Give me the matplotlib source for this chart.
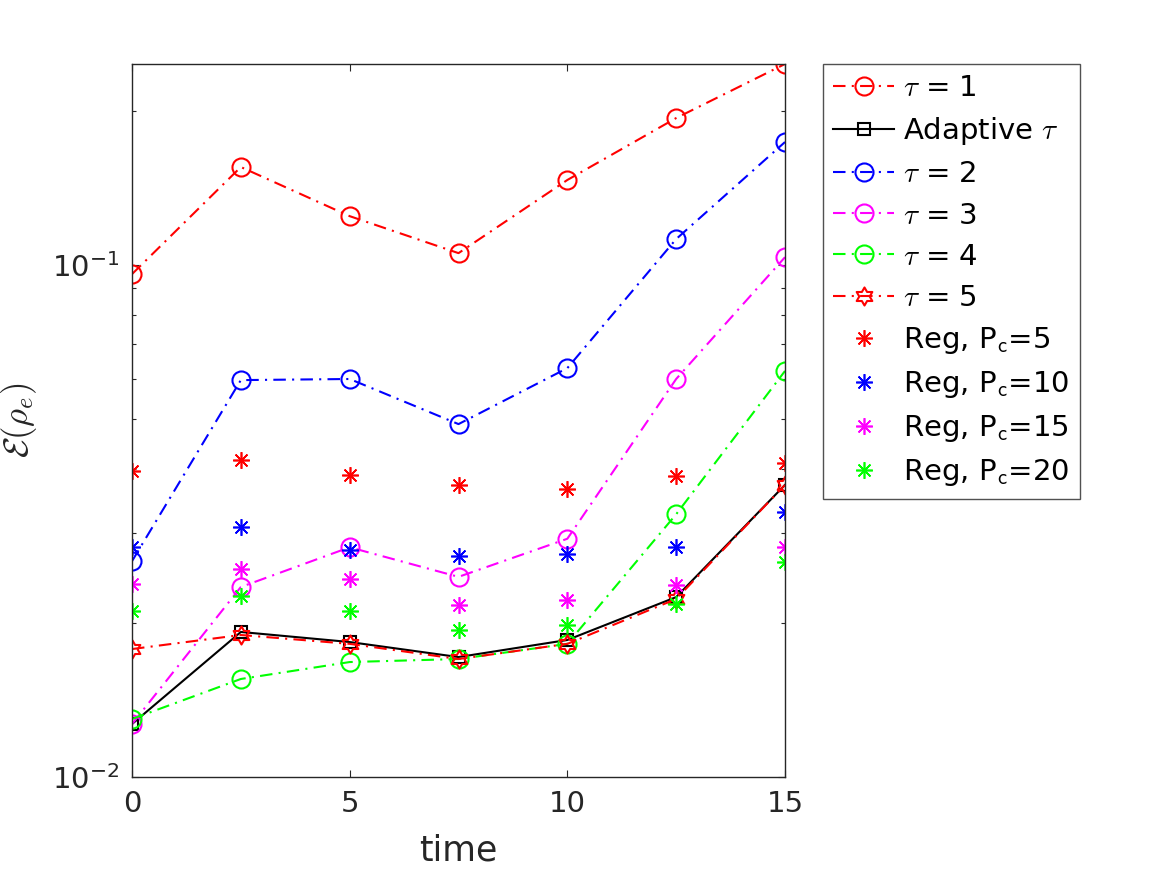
import numpy as np
import matplotlib
matplotlib.use("Agg")
import matplotlib.pyplot as plt
from matplotlib.path import Path

plt.rcParams['font.family'] = ['DejaVu Sans']
plt.rcParams['mathtext.fontset'] = 'cm'

time = [0, 2.5, 5, 7.5, 10, 12.5, 15]

tau1 = [0.0960, 0.1554, 0.1246, 0.1055, 0.1466, 0.1937, 0.2470]
adaptive = [0.01269, 0.0192, 0.01835, 0.01715, 0.01852, 0.02246, 0.0372]
tau2 = [0.0264, 0.0596, 0.0599, 0.0489, 0.0629, 0.1124, 0.1739]
tau3 = [0.01269, 0.0235, 0.0281, 0.0246, 0.0292, 0.0599, 0.1036]
tau4 = [0.01298, 0.01554, 0.01677, 0.0170, 0.0182, 0.0326, 0.0621]
tau5 = [0.01778, 0.01894, 0.0182, 0.0170, 0.0182, 0.02227, 0.0372]

reg5 = [0.0396, 0.0416, 0.0389, 0.0372, 0.0365, 0.0387, 0.0411]
reg10 = [0.0281, 0.0308, 0.0278, 0.0270, 0.0273, 0.0281, 0.0329]
reg15 = [0.0238, 0.0255, 0.0244, 0.02168, 0.02217, 0.0237, 0.0281]
reg20 = [0.0211, 0.0226, 0.0211, 0.0194, 0.0198, 0.0218, 0.0263]

labels = [r'$\tau$ = 1', r'Adaptive $\tau$', r'$\tau$ = 2', r'$\tau$ = 3',
          r'$\tau$ = 4', r'$\tau$ = 5',
          r'Reg, P$_\mathsf{c}$=5', r'Reg, P$_\mathsf{c}$=10',
          r'Reg, P$_\mathsf{c}$=15', r'Reg, P$_\mathsf{c}$=20']

W, H = 1167, 875
fig = plt.figure(figsize=(W / 100, H / 100), dpi=100)
ax = fig.add_axes([132 / W, (H - 777) / H, (785 - 132) / W, (777 - 64) / H])

dd = (0, (6, 3, 1, 3))
lw = 1.5
hexa = Path.unit_regular_star(6, 1 / np.sqrt(3))
star8 = (8, 2, 0)

ax.plot(time, tau1, color=(1, 0, 0), linestyle=dd, lw=lw, marker='o', ms=13,
        mfc='none', mew=1.5, label=labels[0])
ax.plot(time, adaptive, color='k', linestyle='-', lw=lw, marker='s', ms=8,
        mfc='none', mew=1.5, label=labels[1])
ax.plot(time, tau2, color=(0, 0, 1), linestyle=dd, lw=lw, marker='o', ms=13,
        mfc='none', mew=1.5, label=labels[2])
ax.plot(time, tau3, color=(1, 0, 1), linestyle=dd, lw=lw, marker='o', ms=13,
        mfc='none', mew=1.5, label=labels[3])
ax.plot(time, tau4, color=(0, 1, 0), linestyle=dd, lw=lw, marker='o', ms=13,
        mfc='none', mew=1.5, label=labels[4])
ax.plot(time, tau5, color=(1, 0, 0), linestyle=dd, lw=lw, marker=hexa, ms=13,
        mfc='none', mew=1.5, label=labels[5])
for vals, col, lab in [(reg5, (1, 0, 0), labels[6]), (reg10, (0, 0, 1), labels[7]),
                       (reg15, (1, 0, 1), labels[8]), (reg20, (0, 1, 0), labels[9])]:
    ax.plot(time, vals, linestyle='none', marker=star8, ms=12, color=col,
            mew=1.2, label=lab)

ax.set_yscale('log')
ax.set_xlim(0, 15)
ax.set_ylim(0.01, 0.247)
ax.set_xticks([0, 5, 10, 15])
ax.set_yticks([0.01, 0.1])

dark = '#262626'
for s in ax.spines.values():
    s.set_color(dark)
    s.set_linewidth(1.0)
ax.tick_params(which='both', direction='in', top=True, right=True, colors=dark,
               labelsize=21, pad=9)
ax.tick_params(which='major', length=5, width=0.8)
ax.tick_params(which='minor', length=3, width=0.8)

ax.set_xlabel('time', fontsize=25, color=dark)
ax.xaxis.set_label_coords(0.5, -0.079)
ax.set_ylabel(r'$\mathcal{E}(\rho_e)$', fontsize=25, color=dark)
ax.yaxis.set_label_coords(-0.142, 0.5)

leg = ax.legend(loc='upper left', bbox_to_anchor=((823 - 132) / 653, 1.0),
                borderaxespad=0, fontsize=21, frameon=True, fancybox=False,
                handlelength=2.1, handletextpad=0.3, labelspacing=0.45,
                borderpad=0.35)
leg.get_frame().set_edgecolor(dark)
leg.get_frame().set_linewidth(1.0)

fig.savefig('out.png', dpi=100, facecolor='white')
